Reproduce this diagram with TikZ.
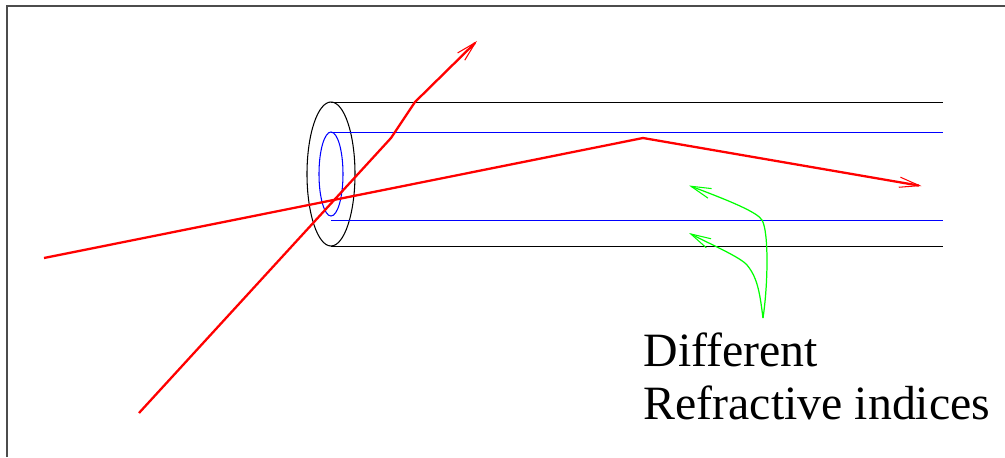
\documentclass[tikz,border=0pt]{standalone}
\usepackage{fontspec}
\setmainfont[Ligatures=NoCommon]{Liberation Serif}
\usepackage{tkz-euclide}
\usetikzlibrary{arrows.meta}

\tikzset{
  wall/.style={black, line width=0.3pt},
  core/.style={blue, line width=0.3pt},
  ray/.style={red, line width=0.65pt},
  hint/.style={green, line width=0.35pt},
  barb/.style={-{Straight Barb[length=5.7pt, width=2.9pt, line width=0.3pt]}},
}

\begin{document}
\begin{tikzpicture}[x=0.01cm, y=-0.01cm]
                \useasboundingbox (0,0) rectangle (1005,457);
                \tkzDefPoints{331/102.5/T, 943/102.5/U, 331/246.3/V, 943/246.3/W, 331/132.8/P, 943/132.8/Q, 331/220/R, 943/220/S, 331/174/O}
                \tkzDefPoints{44/258/A, 643/138/B, 921.5/186/C, 139/413/D, 391/138/E, 415/102/F, 477/41/G}
                \tkzDefPoints{763/318/H, 689/185.5/J, 689/233/K, 7/457/L, 7/6/M, 1005/6/N}
                \draw[black!70, line width=0.4pt] (L) -- (M) -- (N);
                \draw[wall] (O) ellipse [x radius=24, y radius=72];
                \draw[core] (O) ellipse [x radius=12, y radius=42];
                \draw[wall] (T) -- (U);
                \draw[wall] (V) -- (W);
                \draw[core, line width=0.25pt] (P) -- (Q);
                \draw[core, line width=0.25pt] (R) -- (S);
                \draw[ray, barb] (A) -- (B) -- (C);
                \draw[ray, barb] (D) -- (E) -- (F) -- (G);
                \draw[hint, barb] (H) .. controls (768,285) and (769,232) .. (762,220) .. controls (757,212) and (730,201) .. (J);
                \draw[hint, barb] (H) .. controls (760,295) and (758,278) .. (747,265) .. controls (740,257) and (712,245) .. (K);
                \node[font={\fontsize{13.6}{15.08}\selectfont}, align=left, inner sep=0pt, anchor=north west] (note) at (643,332) {Different\\Refractive indices};
            \end{tikzpicture}
\end{document}
